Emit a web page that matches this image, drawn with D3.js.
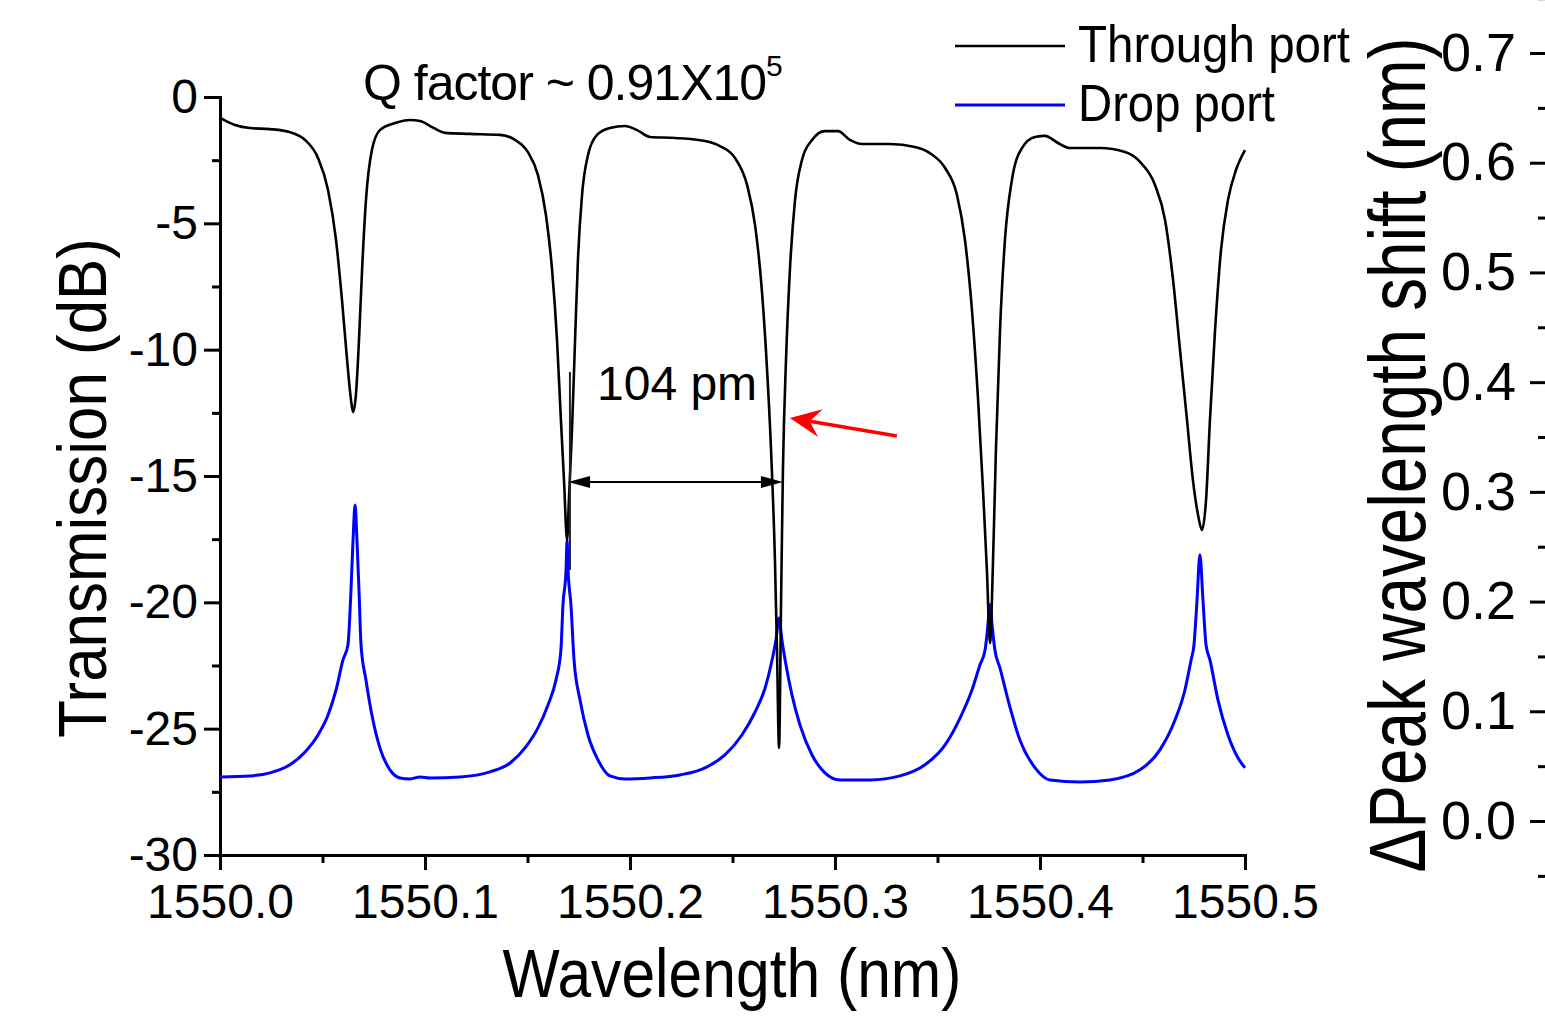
<!DOCTYPE html>
<html>
<head>
<meta charset="utf-8">
<script src="https://cdn.jsdelivr.net/npm/d3@7"></script>
<style>
  body { margin: 0; background: #fff; }
  svg text { font-family: "Liberation Sans", Arial, sans-serif; fill: #000; }
</style>
</head>
<body>
<script>
// through port transmission, [wavelength nm, dB]
var throughPort = [
  [1550.0000, -0.83], [1550.0073, -1.11], [1550.0146, -1.23], [1550.0244, -1.27], [1550.0341, -1.39],
  [1550.0415, -1.70], [1550.0478, -2.41], [1550.0527, -3.68], [1550.0566, -5.66], [1550.0595, -8.03],
  [1550.0620, -10.41], [1550.0639, -11.99], [1550.0649, -12.47], [1550.0663, -11.79], [1550.0678, -9.62],
  [1550.0693, -6.85], [1550.0712, -4.08], [1550.0741, -2.10], [1550.0780, -1.31], [1550.0854, -1.03],
  [1550.0927, -0.91], [1550.0976, -0.95], [1550.1034, -1.19], [1550.1098, -1.42], [1550.1220, -1.46],
  [1550.1366, -1.50], [1550.1439, -1.70], [1550.1502, -2.18], [1550.1551, -3.09], [1550.1590, -4.67],
  [1550.1620, -6.85], [1550.1644, -9.62], [1550.1663, -12.78], [1550.1678, -15.16], [1550.1693, -17.53],
  [1550.1702, -15.95], [1550.1717, -13.18], [1550.1732, -9.62], [1550.1746, -6.45], [1550.1766, -3.88],
  [1550.1795, -2.30], [1550.1839, -1.50], [1550.1902, -1.23], [1550.1976, -1.15], [1550.2034, -1.31],
  [1550.2098, -1.58], [1550.2220, -1.62], [1550.2366, -1.74], [1550.2439, -1.94], [1550.2512, -2.41],
  [1550.2571, -3.48], [1550.2610, -5.07], [1550.2639, -7.24], [1550.2663, -10.01], [1550.2688, -13.97],
  [1550.2707, -18.32], [1550.2717, -21.88], [1550.2727, -25.76], [1550.2737, -19.91], [1550.2746, -14.76],
  [1550.2761, -10.41], [1550.2780, -6.85], [1550.2805, -4.08], [1550.2839, -2.49], [1550.2888, -1.70],
  [1550.2951, -1.35], [1550.3015, -1.35], [1550.3073, -1.70], [1550.3132, -1.86], [1550.3268, -1.86],
  [1550.3390, -1.98], [1550.3463, -2.22], [1550.3537, -2.81], [1550.3595, -3.88], [1550.3634, -5.66],
  [1550.3668, -8.43], [1550.3698, -11.99], [1550.3722, -15.55], [1550.3741, -18.72], [1550.3756, -21.61],
  [1550.3771, -18.32], [1550.3785, -13.97], [1550.3805, -9.22], [1550.3829, -5.66], [1550.3863, -3.28],
  [1550.3912, -2.02], [1550.3976, -1.58], [1550.4024, -1.54], [1550.4088, -1.82], [1550.4146, -2.02],
  [1550.4293, -2.02], [1550.4415, -2.18], [1550.4488, -2.57], [1550.4561, -3.48], [1550.4610, -4.87],
  [1550.4649, -7.24], [1550.4683, -10.01], [1550.4717, -12.78], [1550.4746, -15.16], [1550.4771, -16.54],
  [1550.4790, -17.14], [1550.4810, -15.95], [1550.4829, -12.78], [1550.4854, -9.22], [1550.4883, -6.05],
  [1550.4917, -4.08], [1550.4956, -2.89], [1550.5000, -2.10]
];

// drop port transmission, [wavelength nm, dB]
var dropPort = [
  [1550.0000, -26.91], [1550.0146, -26.87], [1550.0244, -26.75], [1550.0341, -26.43], [1550.0415, -25.92],
  [1550.0478, -25.25], [1550.0527, -24.46], [1550.0566, -23.47], [1550.0600, -22.28], [1550.0624, -21.69],
  [1550.0639, -19.51], [1550.0649, -17.53], [1550.0659, -16.15], [1550.0668, -17.53], [1550.0678, -19.51],
  [1550.0688, -21.69], [1550.0712, -23.07], [1550.0741, -24.46], [1550.0780, -25.76], [1550.0829, -26.63],
  [1550.0878, -26.95], [1550.0927, -26.99], [1550.0976, -26.91], [1550.1024, -26.95], [1550.1171, -26.91],
  [1550.1317, -26.71], [1550.1415, -26.36], [1550.1488, -25.76], [1550.1551, -24.97], [1550.1600, -24.06],
  [1550.1639, -23.07], [1550.1663, -21.88], [1550.1673, -20.10], [1550.1688, -18.72], [1550.1693, -17.53],
  [1550.1698, -18.72], [1550.1712, -20.10], [1550.1727, -22.28], [1550.1756, -23.86], [1550.1795, -25.25],
  [1550.1844, -26.24], [1550.1902, -26.87], [1550.1976, -26.99], [1550.2098, -26.95], [1550.2244, -26.83],
  [1550.2366, -26.55], [1550.2463, -26.04], [1550.2546, -25.25], [1550.2610, -24.34], [1550.2659, -23.39],
  [1550.2693, -22.28], [1550.2712, -21.49], [1550.2727, -20.62], [1550.2741, -21.49], [1550.2761, -22.48],
  [1550.2790, -23.66], [1550.2829, -24.85], [1550.2888, -26.04], [1550.2951, -26.75], [1550.3024, -27.03],
  [1550.3171, -27.03], [1550.3317, -26.87], [1550.3439, -26.43], [1550.3537, -25.64], [1550.3610, -24.58],
  [1550.3668, -23.47], [1550.3707, -22.48], [1550.3732, -21.89], [1550.3746, -20.89], [1550.3756, -20.10],
  [1550.3766, -20.89], [1550.3780, -21.89], [1550.3805, -22.60], [1550.3844, -23.86], [1550.3902, -25.45],
  [1550.3976, -26.55], [1550.4049, -27.03], [1550.4195, -27.11], [1550.4341, -27.03], [1550.4488, -26.63],
  [1550.4585, -25.84], [1550.4659, -24.65], [1550.4707, -23.47], [1550.4737, -22.28], [1550.4751, -21.69],
  [1550.4766, -19.91], [1550.4780, -18.12], [1550.4795, -19.91], [1550.4810, -21.69], [1550.4829, -22.28],
  [1550.4868, -23.86], [1550.4917, -25.25], [1550.4966, -26.16], [1550.5000, -26.55]
];

var xTicks = [1550.0, 1550.1, 1550.2, 1550.3, 1550.4, 1550.5];
var xMinor = [1550.05, 1550.15, 1550.25, 1550.35, 1550.45];
var yTicks = [-30, -25, -20, -15, -10, -5, 0];
var yMinor = [-27.5, -22.5, -17.5, -12.5, -7.5, -2.5];
var shiftTicks = [0.0, 0.1, 0.2, 0.3, 0.4, 0.5, 0.6, 0.7];
var shiftMinor = [-0.05, 0.05, 0.15, 0.25, 0.35, 0.45, 0.55, 0.65, 0.75];

// annotations (data units)
var fsrSpan = [1550.1698, 1550.2746];
var fsrLevel = -15.24;
var fsrLabelAt = [1550.1839, -11.99];
var markerLine = [1550.1707, -10.88, -18.72];
var redArrow = [[1550.3302, -13.42], [1550.2780, -12.70]];

var W = 1545, H = 1016;
var svg = d3.select('body').append('svg')
  .attr('width', W).attr('height', H);

var x = d3.scaleLinear().domain([1550.0, 1550.5]).range([220, 1245]);
var y = d3.scaleLinear().domain([-30, 0]).range([855, 97]);
var yShift = d3.scaleLinear().domain([0, 0.7]).range([821, 53]);

var styleAxis = function(g, fontSize) {
  g.selectAll('path.domain').attr('stroke', '#000').attr('stroke-width', 3).attr('stroke-linecap', 'square');
  g.selectAll('.tick line').attr('stroke', '#000').attr('stroke-width', 3);
  g.selectAll('.tick text').attr('font-size', fontSize).attr('fill', '#000')
    .style('font-family', '"Liberation Sans", Arial, sans-serif');
};

// minor ticks first
svg.append('g').attr('transform', 'translate(0,855)')
  .call(d3.axisBottom(x).tickValues(xMinor).tickSize(8).tickSizeOuter(0).tickFormat(''))
  .call(function(g){ g.select('.domain').remove(); styleAxis(g, 0); });
svg.append('g').attr('transform', 'translate(220,0)')
  .call(d3.axisLeft(y).tickValues(yMinor).tickSize(8).tickSizeOuter(0).tickFormat(''))
  .call(function(g){ g.select('.domain').remove(); styleAxis(g, 0); });

svg.append('g').attr('transform', 'translate(0,855)')
  .call(d3.axisBottom(x).tickValues(xTicks).tickSize(15).tickSizeOuter(0).tickPadding(14)
    .tickFormat(d3.format('.1f')))
  .call(function(g){ styleAxis(g, 48); });

svg.append('g').attr('transform', 'translate(220,0)')
  .call(d3.axisLeft(y).tickValues(yTicks).tickSize(16).tickSizeOuter(0).tickPadding(6)
    .tickFormat(function(d){ return String(d); }))
  .call(function(g){ styleAxis(g, 48); });

// right axis (peak shift), line sits just past the picture edge
svg.append('g').attr('transform', 'translate(1547,0)')
  .call(d3.axisLeft(yShift).tickValues(shiftMinor).tickSize(9).tickSizeOuter(0).tickFormat(''))
  .call(function(g){ g.select('.domain').remove(); styleAxis(g, 0); });
svg.append('g').attr('transform', 'translate(1547,0)')
  .call(d3.axisLeft(yShift).tickValues(shiftTicks).tickSize(17).tickSizeOuter(0).tickPadding(14)
    .tickFormat(d3.format('.1f')))
  .call(function(g){ g.select('.domain').remove(); styleAxis(g, 54); });

var line = d3.line()
  .x(function(d){ return x(d[0]); })
  .y(function(d){ return y(d[1]); })
  .curve(d3.curveMonotoneX);

svg.append('path').datum(dropPort)
  .attr('d', line).attr('fill', 'none').attr('stroke', '#0000ff').attr('stroke-width', 3);
svg.append('path').datum(throughPort)
  .attr('d', line).attr('fill', 'none').attr('stroke', '#000').attr('stroke-width', 2.6);

// FSR annotation
svg.append('line')
  .attr('x1', x(markerLine[0])).attr('x2', x(markerLine[0]))
  .attr('y1', y(markerLine[1])).attr('y2', y(markerLine[2]))
  .attr('stroke', '#222').attr('stroke-width', 2);

var ax1 = x(fsrSpan[0]), ax2 = x(fsrSpan[1]), ay = y(fsrLevel);
svg.append('line').attr('x1', ax1 + 10).attr('x2', ax2 - 10).attr('y1', ay).attr('y2', ay)
  .attr('stroke', '#000').attr('stroke-width', 2);
svg.append('path')
  .attr('d', 'M' + ax1 + ',' + ay + 'L' + (ax1 + 22) + ',' + (ay - 6) + 'L' + (ax1 + 22) + ',' + (ay + 6) + 'Z')
  .attr('fill', '#000');
svg.append('path')
  .attr('d', 'M' + ax2 + ',' + ay + 'L' + (ax2 - 22) + ',' + (ay - 6) + 'L' + (ax2 - 22) + ',' + (ay + 6) + 'Z')
  .attr('fill', '#000');

svg.append('text').attr('x', x(fsrLabelAt[0])).attr('y', y(fsrLabelAt[1]))
  .attr('font-size', 48).text('104 pm');

// red arrow
var tail = [x(redArrow[0][0]), y(redArrow[0][1])];
var tip = [x(redArrow[1][0]), y(redArrow[1][1])];
var dx = tip[0] - tail[0], dy = tip[1] - tail[1], len = Math.sqrt(dx * dx + dy * dy);
var ux = dx / len, uy = dy / len, nx = -uy, ny = ux;
var notch = [tip[0] - 20 * ux, tip[1] - 20 * uy];
svg.append('line').attr('x1', tail[0]).attr('y1', tail[1]).attr('x2', notch[0]).attr('y2', notch[1])
  .attr('stroke', '#ff0000').attr('stroke-width', 3.5);
svg.append('path')
  .attr('d', 'M' + tip[0] + ',' + tip[1] +
    'L' + (tip[0] - 31 * ux + 14 * nx) + ',' + (tip[1] - 31 * uy + 14 * ny) +
    'L' + notch[0] + ',' + notch[1] +
    'L' + (tip[0] - 31 * ux - 14 * nx) + ',' + (tip[1] - 31 * uy - 14 * ny) + 'Z')
  .attr('fill', '#ff0000');

// Q factor note
var q = svg.append('text').attr('x', 363).attr('y', 100).attr('font-size', 50)
  .attr('letter-spacing', -1);
q.append('tspan').text('Q factor ~ 0.91X10');
q.append('tspan').attr('dy', -24).attr('font-size', 30).text('5');

// legend
var legend = svg.append('g');
legend.append('line').attr('x1', 955).attr('x2', 1065).attr('y1', 46).attr('y2', 46)
  .attr('stroke', '#000').attr('stroke-width', 2.6);
legend.append('line').attr('x1', 955).attr('x2', 1065).attr('y1', 105).attr('y2', 105)
  .attr('stroke', '#0000ff').attr('stroke-width', 3);
legend.append('text').attr('x', 1078).attr('y', 62).attr('font-size', 52)
  .attr('textLength', 272).attr('lengthAdjust', 'spacingAndGlyphs').text('Through port');
legend.append('text').attr('x', 1078).attr('y', 121).attr('font-size', 52)
  .attr('textLength', 197).attr('lengthAdjust', 'spacingAndGlyphs').text('Drop port');

// axis titles
svg.append('text').attr('x', 732).attr('y', 997).attr('text-anchor', 'middle')
  .attr('font-size', 68).attr('textLength', 459).attr('lengthAdjust', 'spacingAndGlyphs')
  .text('Wavelength (nm)');
svg.append('text').attr('transform', 'translate(106,488) rotate(-90)').attr('text-anchor', 'middle')
  .attr('font-size', 69).attr('textLength', 500).attr('lengthAdjust', 'spacingAndGlyphs')
  .text('Transmission (dB)');
svg.append('text').attr('transform', 'translate(1425,455) rotate(-90)').attr('text-anchor', 'middle')
  .attr('font-size', 80).attr('textLength', 835).attr('lengthAdjust', 'spacingAndGlyphs')
  .text('\u0394Peak wavelength shift (nm)');
</script>
</body>
</html>
